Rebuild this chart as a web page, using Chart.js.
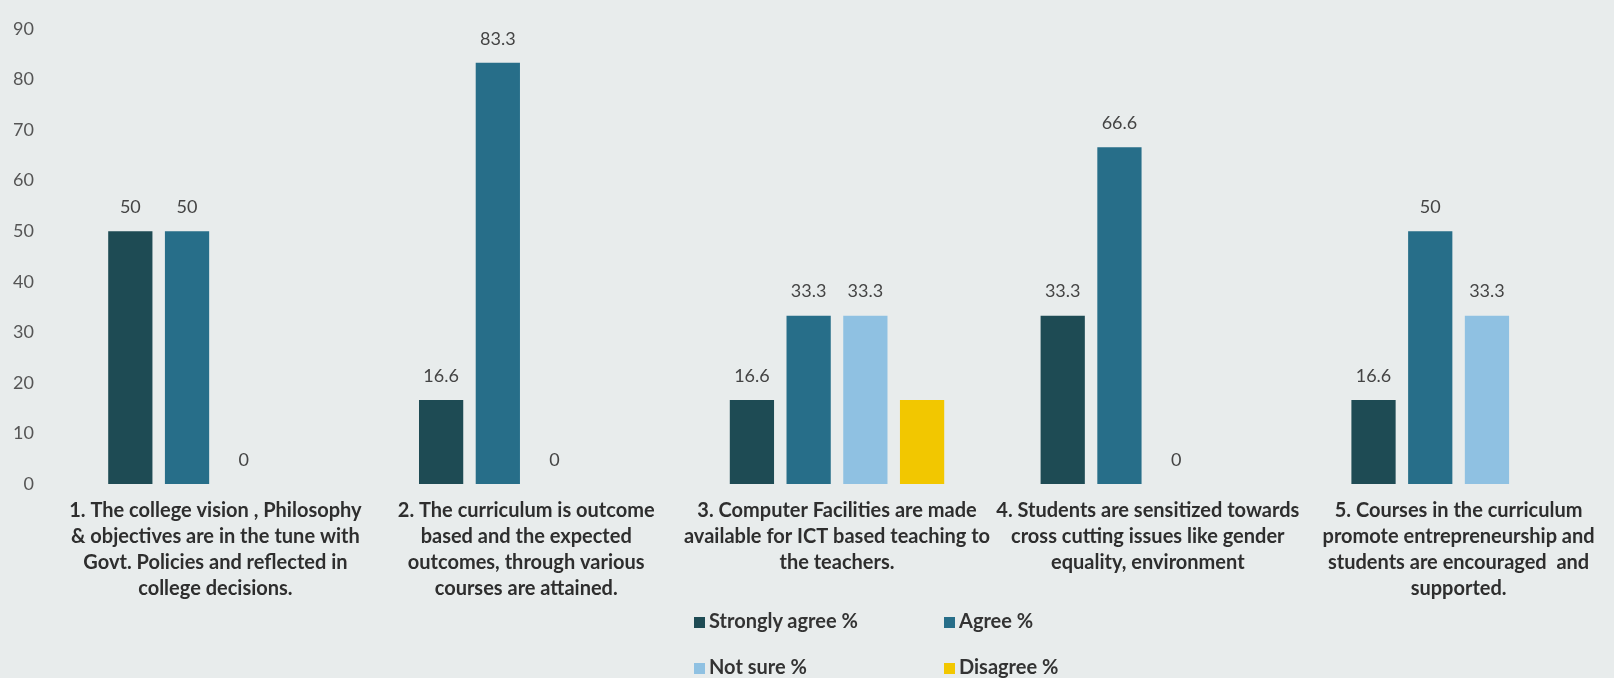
<!DOCTYPE html>
<html lang="en">
<head>
    <meta charset="UTF-8">
    <title>Survey Chart</title>
    <script src="https://cdn.jsdelivr.net/npm/chart.js"></script>
    <style>
        body {
            margin: 0;
            background: #e8ecec;
            font-family: 'Lato', sans-serif;
        }

        .wrap {
            position: relative;
            width: 1614px;
            height: 678px;
        }

        .legend {
            position: absolute;
            left: 694px;
            top: 608px;
            display: grid;
            grid-template-columns: 250px 200px;
            grid-auto-rows: 46px;
            font-weight: 700;
            font-size: 20px;
            line-height: 24px;
            color: #333;
        }

        .legend span.box {
            display: inline-block;
            width: 11px;
            height: 11px;
            margin-right: 4px;
        }
    </style>
</head>
<body>
    <div class="wrap">
        <canvas id="surveyChart" width="1614" height="678"></canvas>
        <div class="legend" id="legend"></div>
    </div>

    <script>
        // categories (already split into lines as on the slide)
        const categories = [
            ['1. The college vision , Philosophy', '& objectives are in the tune with', 'Govt. Policies and reflected in', 'college decisions.'],
            ['2. The curriculum is outcome', 'based and the expected', 'outcomes, through various', 'courses are attained.'],
            ['3. Computer Facilities are made', 'available for ICT based teaching to', 'the teachers.'],
            ['4. Students are sensitized towards', 'cross cutting issues like gender', 'equality, environment'],
            ['5. Courses in the curriculum', 'promote entrepreneurship and', 'students are encouraged  and', 'supported.']
        ];

        const stronglyAgree = [50, 16.6, 16.6, 33.3, 16.6];
        const agree = [50, 83.3, 33.3, 66.6, 50];
        const notSure = [0, 0, 33.3, 0, 33.3];
        const disagree = [null, null, 16.6, null, null];

        const yTicks = [0, 10, 20, 30, 40, 50, 60, 70, 80, 90];

        // only these series have value labels on the slide
        const labelledSeries = [0, 1, 2];

        const valueLabels = {
            id: 'valueLabels',
            afterDatasetsDraw(chart) {
                const c = chart.ctx;
                c.save();
                c.font = '18px Lato';
                c.fillStyle = '#444';
                c.textAlign = 'center';
                c.textBaseline = 'middle';
                labelledSeries.forEach(i => {
                    const meta = chart.getDatasetMeta(i);
                    meta.data.forEach((bar, j) => {
                        const v = chart.data.datasets[i].data[j];
                        if (v === null) return;
                        c.fillText(String(v), bar.x, bar.y - 24);
                    });
                });
                c.restore();
            }
        };

        const ctx = document.getElementById('surveyChart').getContext('2d');

        const surveyChart = new Chart(ctx, {
            type: 'bar',
            data: {
                labels: categories,
                datasets: [
                    { label: 'Strongly agree %', data: stronglyAgree, backgroundColor: '#1e4b54' },
                    { label: 'Agree %', data: agree, backgroundColor: '#276e89' },
                    { label: 'Not sure %', data: notSure, backgroundColor: '#8fc1e2' },
                    { label: 'Disagree %', data: disagree, backgroundColor: '#f2c700' }
                ]
            },
            options: {
                responsive: false,
                animation: false,
                layout: { padding: { top: 29, left: 0, right: 0, bottom: 0 } },
                datasets: {
                    bar: { categoryPercentage: 0.73, barPercentage: 0.78 }
                },
                plugins: {
                    legend: { display: false },
                    tooltip: { enabled: false }
                },
                scales: {
                    x: {
                        grid: { display: false },
                        border: { display: false },
                        ticks: {
                            color: '#2e2e2e',
                            font: { family: 'Lato', size: 20, weight: 'bold', lineHeight: 1.3 },
                            maxRotation: 0,
                            autoSkip: false,
                            padding: 6
                        },
                        afterFit: s => { s.height = 194; }
                    },
                    y: {
                        min: 0,
                        max: 90,
                        grid: { display: false, drawTicks: false },
                        border: { display: false },
                        afterBuildTicks: s => { s.ticks = yTicks.map(v => ({ value: v })); },
                        ticks: {
                            color: '#555',
                            font: { family: 'Lato', size: 18 },
                            padding: 26
                        },
                        afterFit: s => { s.width = 60; s.paddingTop = 0; s.paddingBottom = 0; }
                    }
                }
            },
            plugins: [valueLabels]
        });

        // 2 x 2 legend like the slide
        const legend = document.getElementById('legend');
        surveyChart.data.datasets.forEach(ds => {
            const item = document.createElement('div');
            item.innerHTML = '<span class="box" style="background:' + ds.backgroundColor + '"></span>' + ds.label;
            legend.appendChild(item);
        });
    </script>
</body>
</html>
